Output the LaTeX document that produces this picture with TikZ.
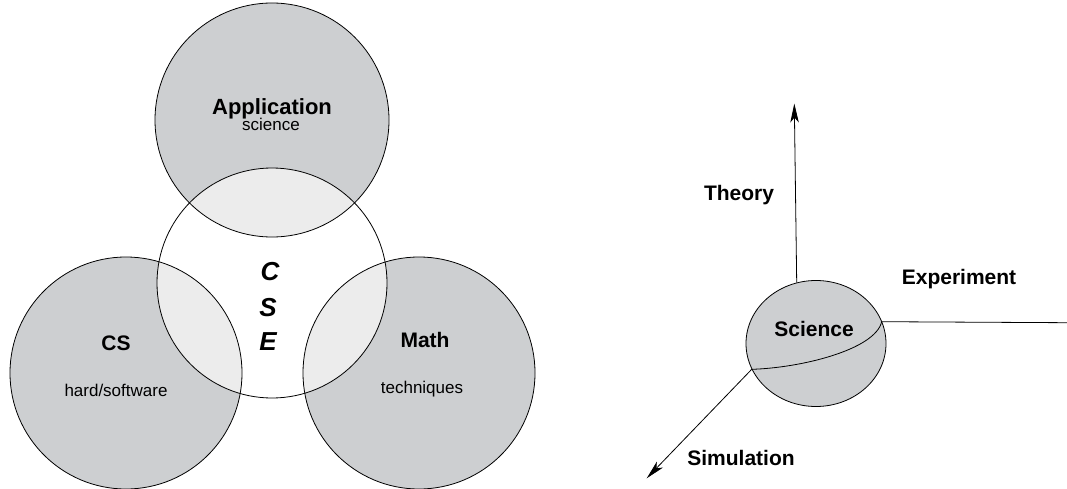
\documentclass[tikz,border=0pt]{standalone}
\usepackage{fontspec}
\setmainfont{Liberation Sans}
\usetikzlibrary{arrows.meta}
\definecolor{cgray}{RGB}{205,207,209}
\definecolor{clight}{RGB}{236,236,236}
\begin{document}
\begin{tikzpicture}[x=1pt,y=-1pt,line width=0.8pt,
  lbl/.style={font=\fontsize{21}{21}\selectfont\bfseries,anchor=base,inner sep=0pt},
  sub/.style={font=\fontsize{17}{17}\selectfont,anchor=base,inner sep=0pt},
  cse/.style={font=\fontsize{26}{26}\selectfont\bfseries\itshape,anchor=base,inner sep=0pt},
  tip/.style={-{Stealth[length=19pt,width=8.5pt,inset=5pt]}}]
\useasboundingbox (0,0) rectangle (1067,489);
% Venn diagram
\coordinate (A) at (272,120);
\coordinate (C) at (126,373);
\coordinate (M) at (419,373);
\coordinate (E) at (272,283);
\fill[cgray] (A) circle (117);
\fill[cgray] (C) circle (116);
\fill[cgray] (M) circle (116);
\fill[white] (E) circle (115);
\begin{scope}
  \clip (E) circle (115);
  \fill[clight] (A) circle (117);
  \fill[clight] (C) circle (116);
  \fill[clight] (M) circle (116);
\end{scope}
\draw (A) circle (117);
\draw (C) circle (116);
\draw (M) circle (116);
\draw (E) circle (115);
\node[lbl,font=\fontsize{22}{22}\selectfont\bfseries] (app) at (272,115) {Application};
\node[sub] (appsub) at (271,131) {science};
\node[lbl] (cs) at (116,350) {CS};
\node[sub] (cssub) at (116,396) {hard/software};
\node[lbl] (math) at (425,347) {Math};
\node[sub] (mathsub) at (422,393) {techniques};
\node[cse] (c1) at (270,280) {C};
\node[cse] (c2) at (268,316) {S};
\node[cse] (c3) at (268,350) {E};
% Science sphere and axes
\coordinate (S) at (816,343.5);
\draw[fill=cgray] (S) ellipse [x radius=70, y radius=63];
\coordinate (eqL) at (751.7,369.3);
\coordinate (eqR) at (881.7,321.7);
\draw (eqL) .. controls (800,368) and (875,350) .. (eqR);
\coordinate (tbot) at (796.7,282.5);
\coordinate (ttop) at (794.3,103.5);
\draw[tip] (tbot) -- (ttop);
\coordinate (eend) at (1067,322.7);
\draw (eqR) -- (eend);
\coordinate (stip) at (646.7,478.3);
\draw[tip] (eqL) -- (stip);
\node[lbl] (sci) at (814,336.7) {Science};
\node[lbl] (theory) at (739,200.7) {Theory};
\node[lbl] (exp) at (959,284.3) {Experiment};
\node[lbl] (sim) at (741,465) {Simulation};
\end{tikzpicture}
\end{document}
